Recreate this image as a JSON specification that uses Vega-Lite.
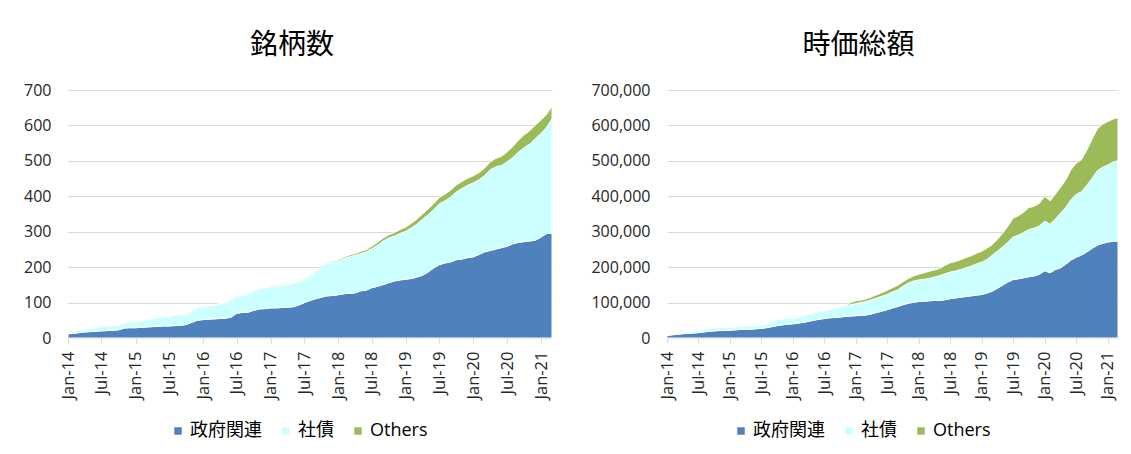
{
  "$schema": "https://vega.github.io/schema/vega-lite/v6.json",
  "padding": {"left": 23, "top": 32, "right": 8, "bottom": 5},
  "background": "white",
  "datasets": {
    "ord": [
      {"k": "政府関連", "i": 1},
      {"k": "社債", "i": 2},
      {"k": "Others", "i": 3}
    ],
    "n": [
      {"d":"2014-01-01","政府関連":12,"社債":5,"Others":0},
      {"d":"2014-02-01","政府関連":13,"社債":6,"Others":0},
      {"d":"2014-03-01","政府関連":15,"社債":7,"Others":0},
      {"d":"2014-04-01","政府関連":17,"社債":8,"Others":0},
      {"d":"2014-05-01","政府関連":18,"社債":9,"Others":0},
      {"d":"2014-06-01","政府関連":19,"社債":11,"Others":0},
      {"d":"2014-07-01","政府関連":20,"社債":13,"Others":0},
      {"d":"2014-08-01","政府関連":21,"社債":13,"Others":0},
      {"d":"2014-09-01","政府関連":22,"社債":13,"Others":0},
      {"d":"2014-10-01","政府関連":23,"社債":14,"Others":0},
      {"d":"2014-11-01","政府関連":28,"社債":15,"Others":0},
      {"d":"2014-12-01","政府関連":29,"社債":16,"Others":0},
      {"d":"2015-01-01","政府関連":29,"社債":18,"Others":0},
      {"d":"2015-02-01","政府関連":30,"社債":19,"Others":0},
      {"d":"2015-03-01","政府関連":31,"社債":21,"Others":0},
      {"d":"2015-04-01","政府関連":32,"社債":23,"Others":0},
      {"d":"2015-05-01","政府関連":33,"社債":25,"Others":0},
      {"d":"2015-06-01","政府関連":34,"社債":26,"Others":0},
      {"d":"2015-07-01","政府関連":34,"社債":28,"Others":0},
      {"d":"2015-08-01","政府関連":35,"社債":29,"Others":1},
      {"d":"2015-09-01","政府関連":36,"社債":29,"Others":1},
      {"d":"2015-10-01","政府関連":38,"社債":29,"Others":1},
      {"d":"2015-11-01","政府関連":44,"社債":31,"Others":1},
      {"d":"2015-12-01","政府関連":50,"社債":35,"Others":1},
      {"d":"2016-01-01","政府関連":52,"社債":38,"Others":1},
      {"d":"2016-02-01","政府関連":53,"社債":38,"Others":1},
      {"d":"2016-03-01","政府関連":54,"社債":39,"Others":1},
      {"d":"2016-04-01","政府関連":55,"社債":41,"Others":1},
      {"d":"2016-05-01","政府関連":56,"社債":44,"Others":1},
      {"d":"2016-06-01","政府関連":59,"社債":49,"Others":1},
      {"d":"2016-07-01","政府関連":70,"社債":49,"Others":1},
      {"d":"2016-08-01","政府関連":72,"社債":48,"Others":1},
      {"d":"2016-09-01","政府関連":73,"社債":50,"Others":1},
      {"d":"2016-10-01","政府関連":78,"社債":57,"Others":1},
      {"d":"2016-11-01","政府関連":82,"社債":57,"Others":1},
      {"d":"2016-12-01","政府関連":83,"社債":59,"Others":1},
      {"d":"2017-01-01","政府関連":85,"社債":59,"Others":2},
      {"d":"2017-02-01","政府関連":85,"社債":61,"Others":2},
      {"d":"2017-03-01","政府関連":86,"社債":63,"Others":2},
      {"d":"2017-04-01","政府関連":87,"社債":64,"Others":2},
      {"d":"2017-05-01","政府関連":88,"社債":66,"Others":2},
      {"d":"2017-06-01","政府関連":93,"社債":67,"Others":2},
      {"d":"2017-07-01","政府関連":100,"社債":66,"Others":2},
      {"d":"2017-08-01","政府関連":106,"社債":68,"Others":3},
      {"d":"2017-09-01","政府関連":111,"社債":75,"Others":3},
      {"d":"2017-10-01","政府関連":115,"社債":85,"Others":3},
      {"d":"2017-11-01","政府関連":119,"社債":91,"Others":3},
      {"d":"2017-12-01","政府関連":120,"社債":93,"Others":3},
      {"d":"2018-01-01","政府関連":122,"社債":94,"Others":4},
      {"d":"2018-02-01","政府関連":125,"社債":99,"Others":4},
      {"d":"2018-03-01","政府関連":126,"社債":103,"Others":5},
      {"d":"2018-04-01","政府関連":127,"社債":106,"Others":5},
      {"d":"2018-05-01","政府関連":133,"社債":105,"Others":6},
      {"d":"2018-06-01","政府関連":135,"社債":108,"Others":6},
      {"d":"2018-07-01","政府関連":142,"社債":110,"Others":7},
      {"d":"2018-08-01","政府関連":146,"社債":116,"Others":8},
      {"d":"2018-09-01","政府関連":151,"社債":123,"Others":8},
      {"d":"2018-10-01","政府関連":156,"社債":126,"Others":9},
      {"d":"2018-11-01","政府関連":161,"社債":127,"Others":10},
      {"d":"2018-12-01","政府関連":164,"社債":131,"Others":11},
      {"d":"2019-01-01","政府関連":166,"社債":135,"Others":12},
      {"d":"2019-02-01","政府関連":168,"社債":143,"Others":13},
      {"d":"2019-03-01","政府関連":172,"社債":149,"Others":14},
      {"d":"2019-04-01","政府関連":177,"社債":158,"Others":15},
      {"d":"2019-05-01","政府関連":186,"社債":162,"Others":16},
      {"d":"2019-06-01","政府関連":198,"社債":164,"Others":17},
      {"d":"2019-07-01","政府関連":207,"社債":172,"Others":18},
      {"d":"2019-08-01","政府関連":212,"社債":175,"Others":19},
      {"d":"2019-09-01","政府関連":215,"社債":183,"Others":20},
      {"d":"2019-10-01","政府関連":221,"社債":191,"Others":20},
      {"d":"2019-11-01","政府関連":223,"社債":199,"Others":20},
      {"d":"2019-12-01","政府関連":227,"社債":204,"Others":20},
      {"d":"2020-01-01","政府関連":229,"社債":209,"Others":20},
      {"d":"2020-02-01","政府関連":236,"社債":211,"Others":20},
      {"d":"2020-03-01","政府関連":243,"社債":215,"Others":21},
      {"d":"2020-04-01","政府関連":247,"社債":228,"Others":22},
      {"d":"2020-05-01","政府関連":251,"社債":232,"Others":24},
      {"d":"2020-06-01","政府関連":255,"社債":232,"Others":26},
      {"d":"2020-07-01","政府関連":259,"社債":238,"Others":28},
      {"d":"2020-08-01","政府関連":266,"社債":243,"Others":31},
      {"d":"2020-09-01","政府関連":270,"社債":255,"Others":34},
      {"d":"2020-10-01","政府関連":272,"社債":265,"Others":36},
      {"d":"2020-11-01","政府関連":274,"社債":273,"Others":38},
      {"d":"2020-12-01","政府関連":276,"社債":287,"Others":38},
      {"d":"2021-01-01","政府関連":285,"社債":292,"Others":38},
      {"d":"2021-02-01","政府関連":295,"社債":301,"Others":36},
      {"d":"2021-03-01","政府関連":296,"社債":323,"Others":35}
    ],
    "v": [
      {"d":"2014-01-01","政府関連":7000,"社債":3000,"Others":0},
      {"d":"2014-02-01","政府関連":9000,"社債":3000,"Others":0},
      {"d":"2014-03-01","政府関連":10000,"社債":4000,"Others":0},
      {"d":"2014-04-01","政府関連":12000,"社債":4000,"Others":0},
      {"d":"2014-05-01","政府関連":13000,"社債":5000,"Others":0},
      {"d":"2014-06-01","政府関連":14000,"社債":6000,"Others":0},
      {"d":"2014-07-01","政府関連":15000,"社債":7000,"Others":0},
      {"d":"2014-08-01","政府関連":17000,"社債":8000,"Others":0},
      {"d":"2014-09-01","政府関連":19000,"社債":8000,"Others":0},
      {"d":"2014-10-01","政府関連":20000,"社債":9000,"Others":0},
      {"d":"2014-11-01","政府関連":21000,"社債":9000,"Others":0},
      {"d":"2014-12-01","政府関連":21000,"社債":9000,"Others":0},
      {"d":"2015-01-01","政府関連":22000,"社債":9000,"Others":0},
      {"d":"2015-02-01","政府関連":23000,"社債":9000,"Others":0},
      {"d":"2015-03-01","政府関連":24000,"社債":9000,"Others":0},
      {"d":"2015-04-01","政府関連":25000,"社債":9000,"Others":0},
      {"d":"2015-05-01","政府関連":25000,"社債":10000,"Others":0},
      {"d":"2015-06-01","政府関連":26000,"社債":10000,"Others":0},
      {"d":"2015-07-01","政府関連":27000,"社債":10000,"Others":0},
      {"d":"2015-08-01","政府関連":29000,"社債":11000,"Others":0},
      {"d":"2015-09-01","政府関連":32000,"社債":14000,"Others":0},
      {"d":"2015-10-01","政府関連":35000,"社債":17000,"Others":0},
      {"d":"2015-11-01","政府関連":37000,"社債":17000,"Others":0},
      {"d":"2015-12-01","政府関連":39000,"社債":17000,"Others":0},
      {"d":"2016-01-01","政府関連":40000,"社債":17000,"Others":0},
      {"d":"2016-02-01","政府関連":42000,"社債":18000,"Others":0},
      {"d":"2016-03-01","政府関連":44000,"社債":19000,"Others":0},
      {"d":"2016-04-01","政府関連":47000,"社債":20000,"Others":0},
      {"d":"2016-05-01","政府関連":50000,"社債":21000,"Others":0},
      {"d":"2016-06-01","政府関連":53000,"社債":22000,"Others":0},
      {"d":"2016-07-01","政府関連":55000,"社債":23000,"Others":0},
      {"d":"2016-08-01","政府関連":57000,"社債":24000,"Others":0},
      {"d":"2016-09-01","政府関連":58000,"社債":26000,"Others":0},
      {"d":"2016-10-01","政府関連":59000,"社債":28000,"Others":0},
      {"d":"2016-11-01","政府関連":61000,"社債":30000,"Others":1000},
      {"d":"2016-12-01","政府関連":62000,"社債":32000,"Others":6000},
      {"d":"2017-01-01","政府関連":63000,"社債":34000,"Others":8000},
      {"d":"2017-02-01","政府関連":64000,"社債":36000,"Others":7000},
      {"d":"2017-03-01","政府関連":65000,"社債":38000,"Others":7000},
      {"d":"2017-04-01","政府関連":68000,"社債":40000,"Others":8000},
      {"d":"2017-05-01","政府関連":72000,"社債":41000,"Others":9000},
      {"d":"2017-06-01","政府関連":76000,"社債":42000,"Others":10000},
      {"d":"2017-07-01","政府関連":80000,"社債":43000,"Others":12000},
      {"d":"2017-08-01","政府関連":85000,"社債":45000,"Others":12000},
      {"d":"2017-09-01","政府関連":89000,"社債":47000,"Others":13000},
      {"d":"2017-10-01","政府関連":94000,"社債":52000,"Others":13000},
      {"d":"2017-11-01","政府関連":98000,"社債":57000,"Others":13000},
      {"d":"2017-12-01","政府関連":101000,"社債":60000,"Others":14000},
      {"d":"2018-01-01","政府関連":103000,"社債":61000,"Others":16000},
      {"d":"2018-02-01","政府関連":104000,"社債":62000,"Others":18000},
      {"d":"2018-03-01","政府関連":105000,"社債":63000,"Others":20000},
      {"d":"2018-04-01","政府関連":106000,"社債":66000,"Others":20000},
      {"d":"2018-05-01","政府関連":106000,"社債":70000,"Others":20000},
      {"d":"2018-06-01","政府関連":108000,"社債":73000,"Others":24000},
      {"d":"2018-07-01","政府関連":111000,"社債":75000,"Others":26000},
      {"d":"2018-08-01","政府関連":113000,"社債":76000,"Others":27000},
      {"d":"2018-09-01","政府関連":115000,"社債":78000,"Others":28000},
      {"d":"2018-10-01","政府関連":117000,"社債":81000,"Others":29000},
      {"d":"2018-11-01","政府関連":119000,"社債":84000,"Others":29000},
      {"d":"2018-12-01","政府関連":121000,"社債":88000,"Others":30000},
      {"d":"2019-01-01","政府関連":123000,"社債":91000,"Others":31000},
      {"d":"2019-02-01","政府関連":127000,"社債":95000,"Others":32000},
      {"d":"2019-03-01","政府関連":132000,"社債":101000,"Others":30000},
      {"d":"2019-04-01","政府関連":140000,"社債":105000,"Others":33000},
      {"d":"2019-05-01","政府関連":149000,"社債":108000,"Others":38000},
      {"d":"2019-06-01","政府関連":158000,"社債":112000,"Others":45000},
      {"d":"2019-07-01","政府関連":165000,"社債":120000,"Others":53000},
      {"d":"2019-08-01","政府関連":167000,"社債":123000,"Others":55000},
      {"d":"2019-09-01","政府関連":170000,"社債":128000,"Others":57000},
      {"d":"2019-10-01","政府関連":173000,"社債":133000,"Others":62000},
      {"d":"2019-11-01","政府関連":175000,"社債":135000,"Others":62000},
      {"d":"2019-12-01","政府関連":180000,"社債":136000,"Others":64000},
      {"d":"2020-01-01","政府関連":190000,"社債":140000,"Others":70000},
      {"d":"2020-02-01","政府関連":184000,"社債":137000,"Others":66000},
      {"d":"2020-03-01","政府関連":193000,"社債":142000,"Others":70000},
      {"d":"2020-04-01","政府関連":198000,"社債":154000,"Others":73000},
      {"d":"2020-05-01","政府関連":208000,"社債":160000,"Others":77000},
      {"d":"2020-06-01","政府関連":220000,"社債":170000,"Others":85000},
      {"d":"2020-07-01","政府関連":228000,"社債":177000,"Others":88000},
      {"d":"2020-08-01","政府関連":234000,"社債":179000,"Others":90000},
      {"d":"2020-09-01","政府関連":243000,"社債":188000,"Others":99000},
      {"d":"2020-10-01","政府関連":253000,"社債":197000,"Others":110000},
      {"d":"2020-11-01","政府関連":262000,"社債":210000,"Others":118000},
      {"d":"2020-12-01","政府関連":267000,"社債":215000,"Others":121000},
      {"d":"2021-01-01","政府関連":271000,"社債":217000,"Others":123000},
      {"d":"2021-02-01","政府関連":273000,"社債":224000,"Others":121000},
      {"d":"2021-03-01","政府関連":274000,"社債":226000,"Others":122000}
    ]
  },
  "hconcat": [
    {
      "title": {"text": "銘柄数", "dx": -18},
      "width": 484,
      "height": 248,
      "data": {"name": "n"},
      "transform": [
        {"fold": ["政府関連", "社債", "Others"], "as": ["k", "val"]},
        {"lookup": "k", "from": {"data": {"name": "ord"}, "key": "k", "fields": ["i"]}}
      ],
      "mark": {"type": "area", "stroke": "white", "strokeWidth": 1, "strokeJoin": "round"},
      "encoding": {
        "x": {
          "field": "d", "type": "temporal",
          "scale": {"type": "utc", "nice": false},
          "axis": {"format": "%b-%y", "tickCount": {"interval": "month", "step": 6}, "title": null}
        },
        "y": {
          "field": "val", "type": "quantitative", "stack": "zero",
          "scale": {"domain": [0, 700], "nice": false},
          "axis": {"values": [0, 100, 200, 300, 400, 500, 600, 700], "title": null}
        },
        "order": {"field": "i", "type": "quantitative", "sort": "ascending"},
        "color": {
          "field": "k", "type": "nominal",
          "scale": {"domain": ["政府関連", "社債", "Others"], "range": ["#4F81BD", "#CCFFFF", "#9BBB59"]},
          "legend": {"orient": "none", "legendX": 101, "legendY": 332}
        }
      }
    },
    {
      "title": {"text": "時価総額", "dx": -34},
      "width": 451,
      "height": 248,
      "data": {"name": "v"},
      "transform": [
        {"fold": ["政府関連", "社債", "Others"], "as": ["k", "val"]},
        {"lookup": "k", "from": {"data": {"name": "ord"}, "key": "k", "fields": ["i"]}}
      ],
      "mark": {"type": "area", "stroke": "white", "strokeWidth": 1, "strokeJoin": "round"},
      "encoding": {
        "x": {
          "field": "d", "type": "temporal",
          "scale": {"type": "utc", "nice": false},
          "axis": {"format": "%b-%y", "tickCount": {"interval": "month", "step": 6}, "title": null}
        },
        "y": {
          "field": "val", "type": "quantitative", "stack": "zero",
          "scale": {"domain": [0, 700000], "nice": false},
          "axis": {"values": [0, 100000, 200000, 300000, 400000, 500000, 600000, 700000], "format": ",d", "title": null}
        },
        "order": {"field": "i", "type": "quantitative", "sort": "ascending"},
        "color": {
          "field": "k", "type": "nominal",
          "scale": {"domain": ["政府関連", "社債", "Others"], "range": ["#4F81BD", "#CCFFFF", "#9BBB59"]},
          "legend": {"orient": "none", "legendX": 65, "legendY": 332}
        }
      }
    }
  ],
  "spacing": 37,
  "resolve": {"scale": {"color": "independent", "x": "independent", "y": "independent"}},
  "config": {
    "view": {"stroke": null},
    "font": "Open Sans, Noto Sans CJK JP",
    "title": {"fontSize": 28, "fontWeight": "normal", "font": "Noto Sans CJK JP", "color": "#000000", "offset": 22, "anchor": "middle"},
    "axisX": {
      "labelAngle": -90, "labelAlign": "right", "labelBaseline": "middle",
      "labelFont": "Open Sans", "labelFontSize": 16.5, "labelColor": "#262626",
      "labelPadding": 8, "tickSize": 5, "tickColor": "#D9D9D9", "domainColor": "#D9D9D9",
      "grid": false, "labelOverlap": false, "labelFlush": false
    },
    "axisY": {
      "labelFont": "Open Sans", "labelFontSize": 16, "labelColor": "#262626",
      "labelPadding": 17, "ticks": false, "domain": false,
      "grid": true, "gridColor": "#D9D9D9", "gridWidth": 1
    },
    "legend": {
      "direction": "horizontal", "title": null,
      "symbolType": "square", "symbolSize": 56, "symbolStrokeWidth": 0,
      "labelFont": "Open Sans, Noto Sans CJK JP", "labelFontSize": 18, "labelColor": "#000000",
      "labelOffset": 3, "columnPadding": 15
    }
  }
}
